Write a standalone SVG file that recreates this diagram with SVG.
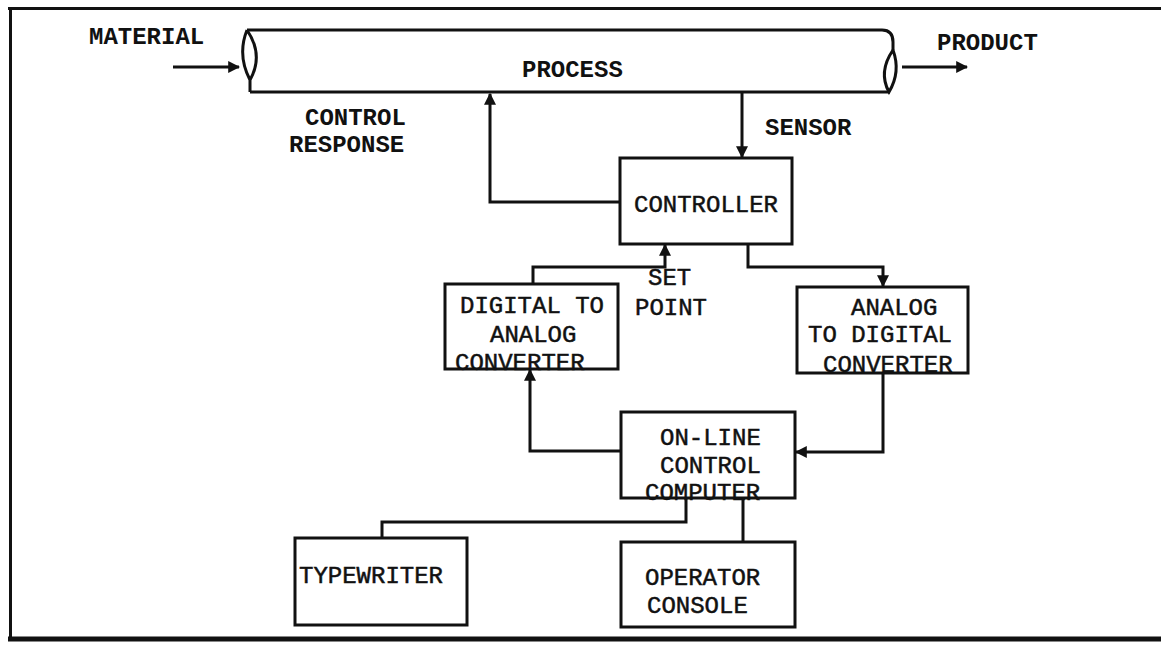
<svg xmlns="http://www.w3.org/2000/svg" width="1161" height="651" viewBox="0 0 1161 651">
<style>
.box{fill:none;stroke:#111;stroke-width:3}
.ln{fill:none;stroke:#111;stroke-width:3;stroke-linejoin:miter}
.t{font-family:"Liberation Mono","DejaVu Sans Mono",monospace;font-size:24px;fill:#111;stroke:#111;stroke-width:0.5}
.b{font-family:"Liberation Mono","DejaVu Sans Mono",monospace;font-size:24px;font-weight:bold;fill:#111}
</style>
<defs>
<marker id="ah" viewBox="0 0 10 10" refX="9" refY="5" markerWidth="4" markerHeight="4" orient="auto" markerUnits="strokeWidth">
<path d="M0,0 L10,5 L0,10 z" fill="#111"/>
</marker>
</defs>
<rect width="1161" height="651" fill="#fff"/>
<g id="frame">
<line x1="8" y1="8.5" x2="1161" y2="8.5" stroke="#111" stroke-width="3"/>
<line x1="10.5" y1="7" x2="10.5" y2="640" stroke="#111" stroke-width="3"/>
<line x1="8" y1="639" x2="1161" y2="639" stroke="#111" stroke-width="5"/>
</g>
<g id="process">
<path class="ln" d="M247 30 H882 Q893 30 893 42 V50"/>
<path class="ln" d="M250 92 H890"/>
<path class="ln" d="M247 30 Q237 55 250 80 Q264 55 247 30 M250 80 V92"/>
<path class="ln" d="M893 50 Q878 72 889 92 Q901 72 893 50"/>
<text class="b" x="522" y="77">PROCESS</text>
</g>
<g id="material">
<text class="b" x="89" y="44">MATERIAL</text>
</g>
<g id="product">
<text class="b" x="937" y="50">PRODUCT</text>
</g>
<g id="controller">
<rect class="box" x="620" y="158" width="172" height="86"/>
<text class="t" x="634" y="212">CONTROLLER</text>
</g>
<g id="dac">
<rect class="box" x="445" y="284" width="173" height="85"/>
<text class="t" x="460" y="313">DIGITAL TO</text>
<text class="t" x="490" y="342">ANALOG</text>
<text class="t" x="455" y="370">CONVERTER</text>
</g>
<g id="adc">
<rect class="box" x="797" y="287" width="171" height="86"/>
<text class="t" x="851" y="315">ANALOG</text>
<text class="t" x="808" y="342">TO DIGITAL</text>
<text class="t" x="823" y="372">CONVERTER</text>
</g>
<g id="computer">
<rect class="box" x="621" y="412" width="174" height="86"/>
<text class="t" x="660" y="445">ON-LINE</text>
<text class="t" x="660" y="473">CONTROL</text>
<text class="t" x="645" y="500">COMPUTER</text>
</g>
<g id="typewriter">
<rect class="box" x="295" y="538" width="172" height="87"/>
<text class="t" x="299" y="583">TYPEWRITER</text>
</g>
<g id="console">
<rect class="box" x="621" y="542" width="174" height="85"/>
<text class="t" x="645" y="585">OPERATOR</text>
<text class="t" x="647" y="613">CONSOLE</text>
</g>
<g id="labels">
<text class="b" x="305" y="125">CONTROL</text>
<text class="b" x="289" y="152">RESPONSE</text>
<text class="b" x="765" y="135">SENSOR</text>
<text class="t" x="648" y="285">SET</text>
<text class="t" x="635" y="315">POINT</text>
</g>
<g id="connectors">
<path class="ln" d="M173 67 H239" stroke-width="4" marker-end="url(#ah)"/>
<path class="ln" d="M902 67 H967" marker-end="url(#ah)"/>
<path class="ln" d="M620 202 H490 V94" marker-end="url(#ah)"/>
<path class="ln" d="M742 93 V157" marker-end="url(#ah)"/>
<path class="ln" d="M533 284 V267 H665 V245" marker-end="url(#ah)"/>
<path class="ln" d="M748 244 V267 H883 V286" marker-end="url(#ah)"/>
<path class="ln" d="M621 451 H530 V370" marker-end="url(#ah)"/>
<path class="ln" d="M883 373 V452 H796" marker-end="url(#ah)"/>
<path class="ln" d="M686 498 V522 H382 V538"/>
<path class="ln" d="M743 498 V542"/>
</g>
</svg>
